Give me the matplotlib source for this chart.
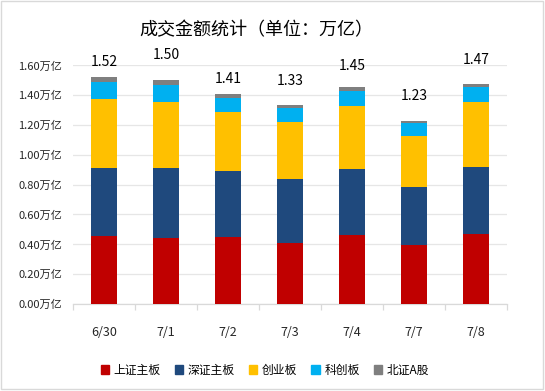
import matplotlib
matplotlib.use("Agg")
import matplotlib.pyplot as plt
import matplotlib.patches as mpatches
import numpy as np

plt.rcParams['font.family'] = ['Noto Sans CJK SC', 'DejaVu Sans']

dates = ["6/30", "7/1", "7/2", "7/3", "7/4", "7/7", "7/8"]
series_names = ["上证主板", "深证主板", "创业板", "科创板", "北证A股"]
sh_main = [0.458, 0.444, 0.449, 0.409, 0.462, 0.395, 0.471]
sz_main = [0.453, 0.467, 0.442, 0.429, 0.443, 0.389, 0.447]
chinext = [0.463, 0.443, 0.396, 0.382, 0.422, 0.342, 0.436]
star = [0.116, 0.114, 0.096, 0.094, 0.101, 0.085, 0.098]
bse = [0.030, 0.033, 0.024, 0.020, 0.026, 0.016, 0.023]
totals = [1.52, 1.50, 1.41, 1.33, 1.45, 1.23, 1.47]
yticks = [0.0, 0.2, 0.4, 0.6, 0.8, 1.0, 1.2, 1.4, 1.6]

colours = ["#C00000", "#1F497D", "#FFC000", "#00B0F0", "#7F7F7F"]
# label offsets above bar top (points), excel put them unevenly
label_offsets = [6, 13, 6, 12, 10, 13, 12]

fig = plt.figure(figsize=(5.45, 3.91), dpi=100)
ax = fig.add_axes([73/545, 1 - 304/391, 434/545, (304 - 65.3)/391])

x = np.arange(len(dates))
bottom = np.zeros(len(dates))
for vals, col in zip([sh_main, sz_main, chinext, star, bse], colours):
    ax.bar(x, vals, width=0.41, bottom=bottom, color=col, zorder=3)
    bottom += np.array(vals)

for xi, top, t, off in zip(x, bottom, totals, label_offsets):
    ax.annotate("{:.2f}".format(t), (xi, top), xytext=(0, off),
                textcoords="offset points", ha="center", va="bottom",
                fontsize=10, color="#000000", annotation_clip=False)

ax.set_xlim(-0.5, len(dates) - 0.5)
ax.set_ylim(0, 1.6)
ax.set_yticks(yticks)
ax.set_yticklabels(["{:.2f}万亿".format(v) for v in yticks], fontsize=8)
ax.yaxis.grid(True, color="#E6E6E6", linewidth=0.9, zorder=0)
ax.tick_params(axis="y", length=0, pad=8, colors="#262626")

ax.set_xticks(x)
ax.set_xticklabels(dates, fontsize=9, color="#262626")
ax.set_xticks(np.arange(len(dates) + 1) - 0.5, minor=True)
ax.tick_params(axis="x", which="major", length=0, pad=16)
ax.tick_params(axis="x", which="minor", length=4, color="#D9D9D9", width=0.9)

for s in ["top", "right", "left"]:
    ax.spines[s].set_visible(False)
ax.spines["bottom"].set_color("#D9D9D9")
ax.spines["bottom"].set_linewidth(0.9)

fig.text(256/545, 1 - 30/391, "成交金额统计（单位：万亿）", ha="center", va="center",
         fontsize=13, color="#000000")

handles = [mpatches.Patch(color=c, label=n) for c, n in zip(colours, series_names)]
fig.legend(handles=handles, loc="center", bbox_to_anchor=(265/545, 1 - 370/391),
           ncol=5, frameon=False, fontsize=8.5, handlelength=0.7, handleheight=0.7,
           handletextpad=0.4, columnspacing=1.2)

border = mpatches.Rectangle((0.002, 0.004), 0.994, 0.993, transform=fig.transFigure,
                            fill=False, edgecolor="#D9D9D9", linewidth=1)
fig.patches.append(border)

fig.savefig("out.png", dpi=100)
